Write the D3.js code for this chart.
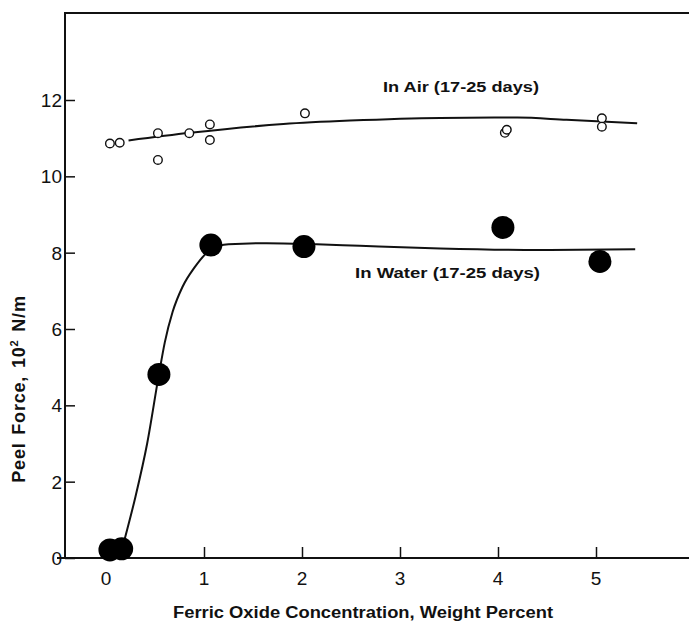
<!DOCTYPE html>
<html>
<head>
<meta charset="utf-8">
<script src="https://cdn.jsdelivr.net/npm/d3@7"></script>
<style>
  html, body { margin: 0; padding: 0; background: #fff; }
  svg { display: block; }
  text { font-family: "Liberation Sans", Arial, Helvetica, sans-serif; fill: #111; }
</style>
</head>
<body>
<svg id="chart" width="689" height="623"></svg>
<script>
// ---- data ----
const xTicks = [0, 1, 2, 3, 4, 5];
const yTicks = [0, 2, 4, 6, 8, 10, 12];

// In Air (open circles)
const airX = [0.04, 0.14, 0.53, 0.53, 0.85, 1.06, 1.06, 2.03, 4.07, 4.09, 5.06, 5.06];
const airY = [10.86, 10.88, 11.13, 10.43, 11.13, 11.36, 10.95, 11.65, 11.14, 11.22, 11.52, 11.30];
// In Air fitted curve
const airCurveX = [0.23, 0.86, 1.81, 2.49, 3.41, 4.20, 4.70, 5.42];
const airCurveY = [10.94, 11.14, 11.37, 11.46, 11.53, 11.54, 11.48, 11.39];

// In Water (filled circles)
const waterX = [0.04, 0.16, 0.54, 1.07, 2.02, 4.05, 5.04];
const waterY = [0.21, 0.24, 4.81, 8.20, 8.16, 8.66, 7.77];
// In Water fitted curve
const waterCurveX = [0.19, 0.30, 0.42, 0.54, 0.60, 0.68, 0.78, 0.90, 1.07, 1.25, 1.64, 2.15, 2.59, 3.41, 4.43, 5.40];
const waterCurveY = [0.49, 1.60, 3.00, 4.81, 5.65, 6.45, 7.10, 7.60, 8.08, 8.22, 8.25, 8.22, 8.18, 8.11, 8.07, 8.09];

const airLabel = "In Air (17-25 days)";
const waterLabel = "In Water (17-25 days)";
const xTitle = "Ferric Oxide Concentration, Weight Percent";
const yTitleMain = "Peel Force, 10";
const yTitleSup = "2";
const yTitleEnd = " N/m";

// ---- drawing ----
const svg = d3.select("#chart");
const x = d3.scaleLinear().domain([0, 5]).range([106, 596]);
const y = d3.scaleLinear().domain([0, 12]).range([558, 100]);

const axisLeftX = 65, topY = 13, axisBottomY = 558, rightX = 689;

svg.append("line").attr("x1", axisLeftX).attr("x2", axisLeftX).attr("y1", topY).attr("y2", axisBottomY)
  .attr("stroke", "#111").attr("stroke-width", 2);
svg.append("line").attr("x1", axisLeftX - 1).attr("x2", rightX).attr("y1", topY).attr("y2", topY)
  .attr("stroke", "#111").attr("stroke-width", 2);

const xAxis = d3.axisTop(x).tickValues(xTicks).tickSize(11).tickFormat("");
const gx = svg.append("g").attr("transform", `translate(0,${axisBottomY})`).call(xAxis);
gx.select(".domain").remove();
gx.selectAll(".tick line").attr("stroke", "#111").attr("stroke-width", 1.5);
svg.append("line").attr("x1", 57).attr("x2", rightX).attr("y1", axisBottomY).attr("y2", axisBottomY)
  .attr("stroke", "#111").attr("stroke-width", 2);

svg.append("g").selectAll("text").data(xTicks).join("text")
  .attr("x", d => x(d)).attr("y", 585)
  .attr("text-anchor", "middle").attr("font-size", 19).text(d => d);

const yAxis = d3.axisRight(y).tickValues(yTicks).tickSize(10).tickFormat("");
const gy = svg.append("g").attr("transform", `translate(${axisLeftX},0)`).call(yAxis);
gy.select(".domain").remove();
gy.selectAll(".tick line").attr("stroke", "#111").attr("stroke-width", 1.5);

svg.append("g").selectAll("text").data(yTicks).join("text")
  .attr("x", 62).attr("y", d => y(d) + 7)
  .attr("text-anchor", "end").attr("font-size", 19).text(d => d);

// curves
const line = d3.line().x(d => x(d[0])).y(d => y(d[1])).curve(d3.curveMonotoneX);
svg.append("path").datum(airCurveX.map((v, i) => [v, airCurveY[i]]))
  .attr("d", line).attr("fill", "none").attr("stroke", "#111").attr("stroke-width", 2);
svg.append("path").datum(waterCurveX.map((v, i) => [v, waterCurveY[i]]))
  .attr("d", line).attr("fill", "none").attr("stroke", "#111").attr("stroke-width", 2);

// points
svg.append("g").selectAll("circle").data(airX.map((v, i) => [v, airY[i]])).join("circle")
  .attr("cx", d => x(d[0])).attr("cy", d => y(d[1])).attr("r", 4.3)
  .attr("fill", "#fff").attr("stroke", "#111").attr("stroke-width", 1.4);

svg.append("g").selectAll("circle").data(waterX.map((v, i) => [v, waterY[i]])).join("circle")
  .attr("cx", d => x(d[0])).attr("cy", d => y(d[1])).attr("r", 11.5)
  .attr("fill", "#000");

// annotations
svg.append("text").attr("x", 383).attr("y", 92).attr("font-size", 15).attr("font-weight", "bold")
  .attr("textLength", 156).attr("lengthAdjust", "spacingAndGlyphs").text(airLabel);
svg.append("text").attr("x", 355).attr("y", 278).attr("font-size", 15).attr("font-weight", "bold")
  .attr("textLength", 185).attr("lengthAdjust", "spacingAndGlyphs").text(waterLabel);

// axis titles
svg.append("text").attr("x", 173).attr("y", 618).attr("font-size", 16).attr("font-weight", "bold")
  .attr("textLength", 380).attr("lengthAdjust", "spacingAndGlyphs").text(xTitle);

const yt = svg.append("text").attr("transform", "translate(25,389) rotate(-90)")
  .attr("text-anchor", "middle").attr("font-size", 18).attr("font-weight", "bold")
  .attr("letter-spacing", 0.8).attr("word-spacing", 2);
yt.append("tspan").text(yTitleMain);
yt.append("tspan").attr("font-size", 11).attr("dy", -7).text(yTitleSup);
yt.append("tspan").attr("dy", 7).text(yTitleEnd);
</script>
</body>
</html>
